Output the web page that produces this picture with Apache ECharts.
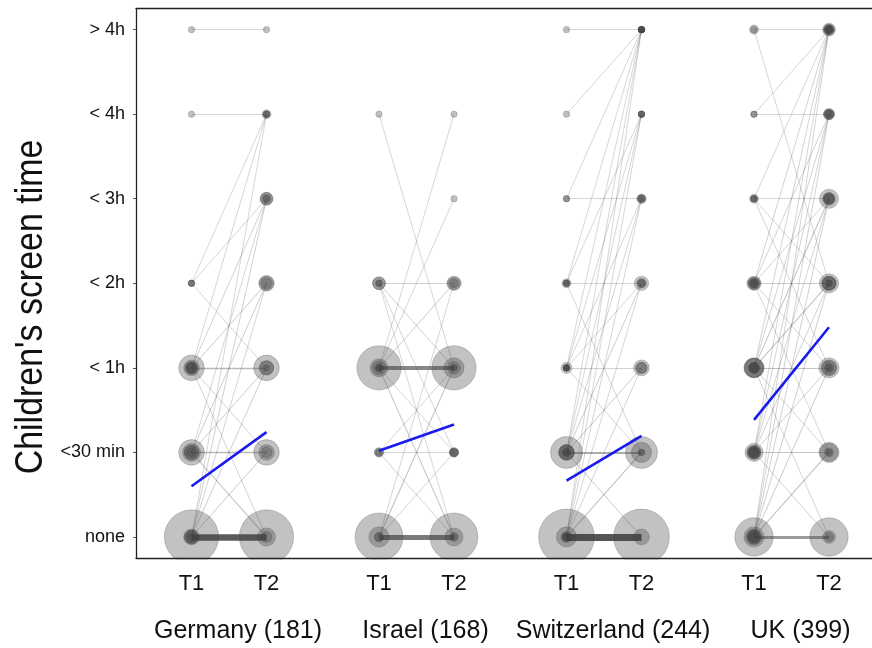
<!DOCTYPE html>
<html>
<head>
<meta charset="utf-8">
<script src="https://cdn.jsdelivr.net/npm/echarts@6/dist/echarts.min.js"></script>
<style>
html,body{margin:0;padding:0;background:#fff;}
#chart{width:872px;height:648px;}
</style>
</head>
<body>
<div id="chart"></div>
<script>
// ---- data ----
const levels = ['none', '<30 min', '< 1h', '< 2h', '< 3h', '< 4h', '> 4h'];
const countries = ['Germany (181)', 'Israel (168)', 'Switzerland (244)', 'UK (399)'];
const timeLabels = ['T1', 'T2'];
const yTitle = "Children's screen time";

// transitions: level index at T1 -> level index at T2, with count
const germanyFrom = [0, 0, 0, 0, 0, 0, 1, 1, 1, 1, 1, 2, 2, 2, 2, 2, 2, 3, 3, 3, 5, 6];
const germanyTo   = [0, 1, 2, 3, 4, 5, 0, 1, 2, 3, 4, 0, 1, 2, 3, 4, 5, 2, 4, 5, 5, 6];
const germanyN    = [72, 6, 5, 3, 4, 1, 8, 16, 5, 5, 2, 3, 3, 16, 6, 4, 2, 1, 1, 1, 1, 1];

const israelFrom = [0, 0, 0, 0, 1, 1, 1, 2, 2, 2, 2, 2, 2, 3, 3, 3, 3, 5];
const israelTo   = [0, 1, 2, 3, 0, 1, 2, 0, 1, 2, 3, 4, 5, 0, 1, 2, 3, 2];
const israelN    = [56, 2, 10, 2, 2, 2, 1, 8, 2, 48, 5, 1, 1, 1, 1, 4, 4, 1];

const switzerlandFrom = [0, 0, 0, 0, 0, 0, 0, 1, 1, 1, 1, 1, 1, 1, 2, 2, 2, 2, 2, 2, 3, 3, 3, 3, 4, 4, 5, 6];
const switzerlandTo   = [0, 1, 2, 3, 4, 5, 6, 0, 1, 2, 3, 4, 5, 6, 1, 2, 3, 4, 5, 6, 1, 3, 5, 6, 4, 6, 6, 6];
const switzerlandN    = [76, 10, 3, 2, 2, 1, 1, 6, 25, 6, 5, 2, 1, 1, 1, 3, 1, 1, 1, 1, 1, 2, 1, 1, 1, 1, 1, 1];

const ukFrom = [0, 0, 0, 0, 0, 0, 0, 1, 1, 1, 1, 1, 1, 1, 2, 2, 2, 2, 2, 2, 2, 3, 3, 3, 3, 3, 3, 4, 4, 4, 4, 5, 5, 6, 6];
const ukTo   = [0, 1, 2, 3, 4, 5, 6, 0, 1, 2, 3, 4, 5, 6, 0, 1, 2, 3, 4, 5, 6, 1, 2, 3, 4, 5, 6, 2, 3, 4, 6, 5, 6, 3, 6];
const ukN    = [36, 10, 6, 5, 4, 3, 2, 4, 8, 5, 4, 3, 2, 2, 2, 2, 10, 9, 9, 3, 3, 1, 2, 5, 3, 2, 4, 1, 1, 2, 1, 1, 1, 1, 2];

// mean trend (blue line) T1 -> T2, in level units
const germanyMean = [0.60, 1.24];
const israelMean = [1.02, 1.33];
const switzerlandMean = [0.665, 1.196];
const ukMean = [1.385, 2.48];

// ---- layout ----
const countryT1Pos = [1, 3.5, 6, 8.5];   // x position of T1 for each country (T2 = +1)
const countryLabelShift = 0.62;
const xMin = 0.26, xMax = 0.26 + 736 / 75;

const sets = [
  { from: germanyFrom, to: germanyTo, n: germanyN, mean: germanyMean },
  { from: israelFrom, to: israelTo, n: israelN, mean: israelMean },
  { from: switzerlandFrom, to: switzerlandTo, n: switzerlandN, mean: switzerlandMean },
  { from: ukFrom, to: ukTo, n: ukN, mean: ukMean }
];

const lineData = [];
const pointData = [];
const meanData = [];
sets.forEach((s, c) => {
  const x1 = countryT1Pos[c], x2 = x1 + 1;
  s.from.forEach((f, i) => {
    const n = s.n[i];
    const r = n / 75;
    lineData.push({
      n: n,
      coords: [[x1, f], [x2, s.to[i]]],
      lineStyle: {
        width: 0.8 + 6.2 * Math.pow(r, 1.5),
        color: '#3c3c3c',
        opacity: Math.min(0.9, 0.26 + 0.6 * Math.pow(r, 1.2))
      }
    });
    pointData.push({ value: [x1, f], symbolSize: 6.4 * Math.sqrt(n) });
    pointData.push({ value: [x2, s.to[i]], symbolSize: 6.4 * Math.sqrt(n) });
  });
  meanData.push({ coords: [[x1, s.mean[0]], [x2, s.mean[1]]] });
});
lineData.sort((a, b) => a.n - b.n);
pointData.sort((a, b) => b.symbolSize - a.symbolSize);

const timeTickPos = [];
const timeTickText = {};
countryT1Pos.forEach(p => {
  timeTickPos.push(p, p + 1);
  timeTickText[p] = timeLabels[0];
  timeTickText[p + 1] = timeLabels[1];
});
const countryTickPos = countryT1Pos.map(p => p + countryLabelShift);
const countryTickText = {};
countryTickPos.forEach((p, i) => { countryTickText[p] = countries[i]; });

const labelFont = "'Liberation Sans', Arial, sans-serif";
const frameLine = { show: true, onZero: false, lineStyle: { color: '#222', width: 1.3 } };

const chart = echarts.init(document.getElementById('chart'), null, { renderer: 'canvas' });
chart.setOption({
  animation: false,
  backgroundColor: '#fff',
  grid: { left: 136, top: 8.5, right: 0, height: 549.6, show: false },
  xAxis: [
    {
      type: 'value', min: xMin, max: xMax, z: 10,
      axisLine: frameLine,
      axisTick: { show: false },
      splitLine: { show: false },
      axisLabel: {
        customValues: timeTickPos,
        formatter: v => timeTickText[v] || '',
        margin: 15, fontSize: 22, color: '#111', fontFamily: labelFont
      }
    },
    {
      type: 'value', min: xMin, max: xMax, position: 'bottom', offset: 48, z: 10,
      axisLine: { show: false }, axisTick: { show: false }, splitLine: { show: false },
      axisLabel: {
        customValues: countryTickPos,
        formatter: v => countryTickText[v] || '',
        margin: 13, fontSize: 25, color: '#111', fontFamily: labelFont
      }
    },
    {
      type: 'value', min: xMin, max: xMax, position: 'top', z: 10,
      axisLine: frameLine, axisTick: { show: false }, splitLine: { show: false },
      axisLabel: { show: false }
    }
  ],
  yAxis: {
    type: 'value', min: -0.25, max: 6.25, z: 10,
    axisLine: frameLine,
    axisTick: { show: true, customValues: [0, 1, 2, 3, 4, 5, 6], length: 3, lineStyle: { color: '#555' } },
    splitLine: { show: false },
    axisLabel: {
      customValues: [0, 1, 2, 3, 4, 5, 6],
      formatter: v => levels[v],
      margin: 11, fontSize: 18, color: '#111', fontFamily: labelFont
    }
  },
  graphic: [
    { type: 'rect', z: 5, shape: { x: 137, y: 559.4, width: 740, height: 14 }, style: { fill: '#fff' } },
    {
      type: 'text', z: 10, x: 31.5, y: 307, rotation: Math.PI / 2, scaleX: 0.87,
      style: {
        text: yTitle, fontSize: 39, fill: '#111', fontFamily: labelFont,
        align: 'center', verticalAlign: 'middle'
      }
    }
  ],
  series: [
    {
      type: 'lines', coordinateSystem: 'cartesian2d', z: 1,
      data: lineData, silent: true
    },
    {
      type: 'scatter', z: 2, silent: true,
      itemStyle: { color: 'rgba(64,64,64,0.40)', borderColor: 'rgba(64,64,64,0.3)', borderWidth: 1 },
      data: pointData
    },
    {
      type: 'lines', coordinateSystem: 'cartesian2d', z: 3, silent: true,
      lineStyle: { color: '#1a1aee', width: 2.6, opacity: 1 },
      data: meanData
    }
  ]
});
</script>
</body>
</html>
